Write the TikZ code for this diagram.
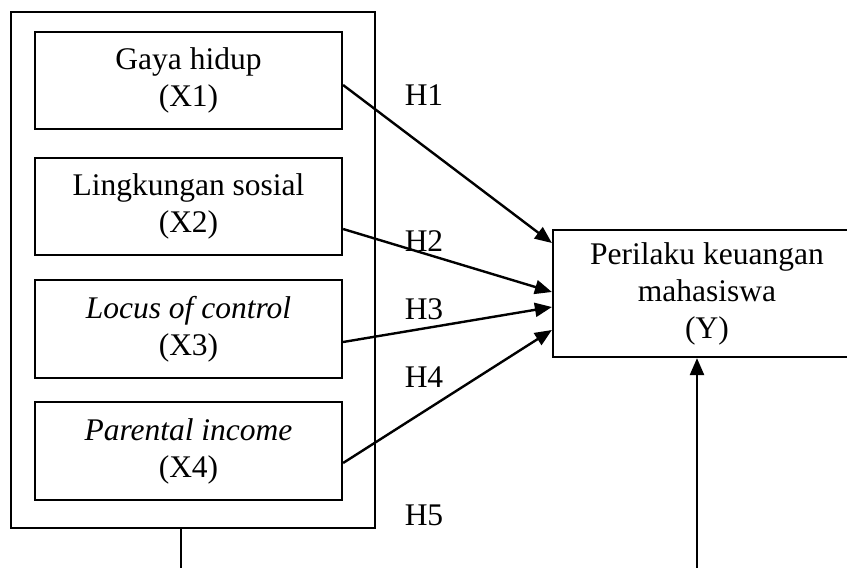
\documentclass[tikz,border=0pt]{standalone}
\usepackage{fontspec}
\setmainfont{Liberation Serif}
\usetikzlibrary{arrows.meta}
\begin{document}
\begin{tikzpicture}[x=1pt,y=-1pt,
  every node/.style={font=\fontsize{31.5}{37}\selectfont, inner sep=0pt},
  varbox/.style={draw, line width=2.2pt, minimum width=307pt, minimum height=97pt, align=center},
  frame/.style={draw, line width=2.2pt, minimum width=364pt, minimum height=516pt},
  ybox/.style={draw, line width=2.2pt, minimum width=308pt, minimum height=127pt, align=center},
  hyp/.style={anchor=center},
  conn/.style={line width=2.4pt, -{Triangle[length=17pt,width=14pt]}},
  plain/.style={line width=2.4pt}]
\useasboundingbox (0,0) rectangle (847,568);
\node[frame] (outer) at (193,270) {};
\node[varbox] (b1) at (188.5,80.5) {Gaya hidup\\(X1)};
\node[varbox] (b2) at (188.5,206.5) {Lingkungan sosial\\(X2)};
\node[varbox, minimum height=98pt] (b3) at (188.5,329) {\textit{Locus of control}\\(X3)};
\node[varbox, minimum height=98pt] (b4) at (188.5,451) {\textit{Parental income}\\(X4)};
\node[ybox] (Y) at (707,293.5) {Perilaku keuangan\\mahasiswa\\(Y)};
\node[hyp] (h1) at (424,95) {H1};
\node[hyp] (h2) at (424,241) {H2};
\node[hyp] (h3) at (424,309) {H3};
\node[hyp] (h4) at (424,377) {H4};
\node[hyp] (h5) at (424,515) {H5};
\coordinate (c1) at (181,570);
\coordinate (c2) at (697,570);
\draw[conn] ([yshift=-4.5pt]b1.east) -- ([yshift=50.5pt]Y.west);
\draw[conn] ([yshift=-22.5pt]b2.east) -- ([yshift=1.5pt]Y.west);
\draw[conn] ([yshift=-13pt]b3.east) -- ([yshift=-13.5pt]Y.west);
\draw[conn] ([yshift=-12pt]b4.east) -- ([yshift=-36.5pt]Y.west);
\draw[plain] (outer.south -| c1) -- (c1);
\draw[conn] (c2) -- (Y.south -| c2);
\end{tikzpicture}
\end{document}
